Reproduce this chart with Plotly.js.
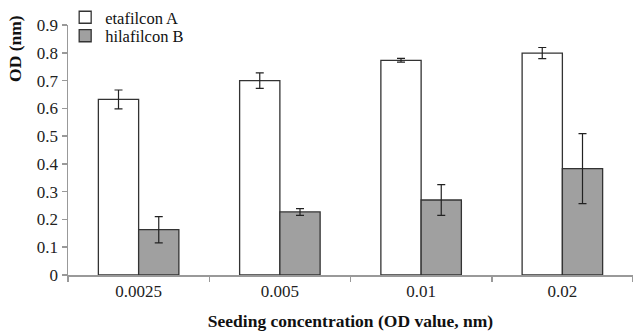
<!DOCTYPE html>
<html><head><meta charset="utf-8">
<script src="https://cdn.plot.ly/plotly-3.0.1.min.js"></script>
<style>html,body{margin:0;padding:0;background:#fff}#c{width:633px;height:331px}</style>
</head><body><div id="c"></div>
<script>
var categories = ['0.0025', '0.005', '0.01', '0.02'];
var etafilcon = [0.632, 0.700, 0.773, 0.799];
var etafilconErr = [0.034, 0.028, 0.007, 0.020];
var hilafilcon = [0.163, 0.227, 0.270, 0.383];
var hilafilconErr = [0.047, 0.012, 0.055, 0.126];
var yTicks = [0, 0.1, 0.2, 0.3, 0.4, 0.5, 0.6, 0.7, 0.8, 0.9];
var yTickText = ['0', '0.1', '0.2', '0.3', '0.4', '0.5', '0.6', '0.7', '0.8', '0.9'];
var yTitle = 'OD (nm)';
var xTitle = 'Seeding concentration (OD value, nm)';

var font = '"Liberation Serif"';
var traces = [
  {type:'bar', name:'etafilcon A', x:categories, y:etafilcon, legend:'legend',
   marker:{color:'#ffffff', line:{color:'#333333', width:1.3}},
   error_y:{type:'data', array:etafilconErr, visible:true, color:'#222', thickness:1.2, width:4}},
  {type:'bar', name:'hilafilcon B', x:categories, y:hilafilcon, legend:'legend2',
   marker:{color:'#a0a0a0', line:{color:'#333333', width:1.3}},
   error_y:{type:'data', array:hilafilconErr, visible:true, color:'#222', thickness:1.2, width:4}}
];
var legFont = {family:font, size:16.5, color:'#111'};
var layout = {
  width:633, height:331,
  margin:{l:68, r:0, t:25, b:56},
  paper_bgcolor:'#fff', plot_bgcolor:'#fff',
  barmode:'group', bargap:0.43, bargroupgap:0,
  font:{family:font, size:14, color:'#222'},
  showlegend:true,
  legend:{x:-0.005, y:1.1, xanchor:'left', yanchor:'top', bgcolor:'rgba(0,0,0,0)', font:legFont, itemwidth:30},
  legend2:{x:-0.005, y:1.026, xanchor:'left', yanchor:'top', bgcolor:'rgba(0,0,0,0)', font:legFont, itemwidth:30},
  xaxis:{type:'category', showline:true, linecolor:'#999', linewidth:1.5,
    ticks:'outside', tickson:'boundaries', ticklen:5, tickcolor:'#999', tickwidth:1.5,
    showgrid:false, zeroline:false, tickfont:{family:font, size:17, color:'#222'},
    title:{text:'<b>' + xTitle + '</b>', font:{family:font, size:17.5, color:'#111'}, standoff:16}},
  yaxis:{range:[0,0.9], tickvals:yTicks, ticktext:yTickText, showline:true, linecolor:'#999', linewidth:1.5,
    ticks:'outside', ticklen:5, tickcolor:'#999', tickwidth:1.5, showgrid:false, zeroline:false,
    tickfont:{family:font, size:17, color:'#222'}},
  annotations:[{text:'<b>' + yTitle + '</b>', xref:'paper', yref:'paper', x:-0.094, y:0.908,
    xanchor:'center', yanchor:'middle', textangle:-90, showarrow:false,
    font:{family:font, size:17.5, color:'#111'}}]
};
Plotly.newPlot('c', traces, layout, {displayModeBar:false, staticPlot:true});
</script></body></html>
